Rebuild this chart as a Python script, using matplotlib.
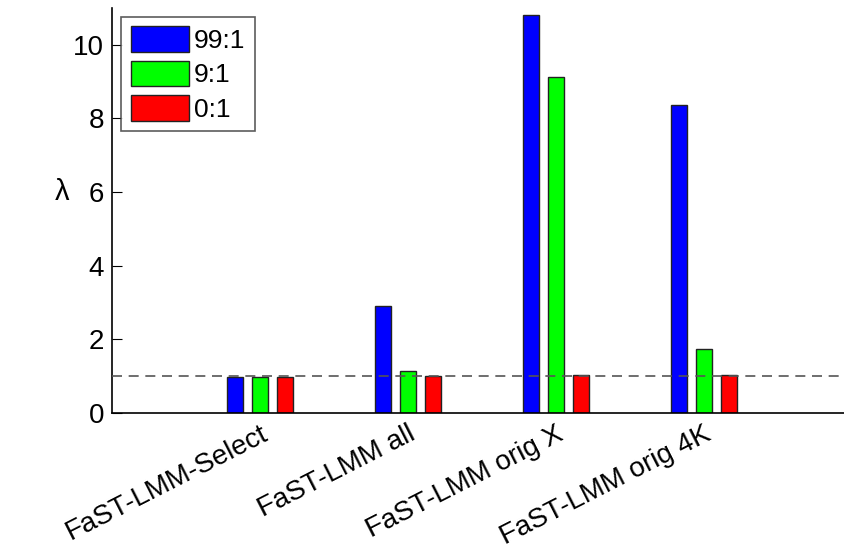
import matplotlib.pyplot as plt
import numpy as np

plt.rcParams['font.family'] = ['Liberation Sans', 'DejaVu Sans']

# methods and lambda values
methods = ["FaST-LMM-Select", "FaST-LMM all", "FaST-LMM orig X", "FaST-LMM orig 4K"]
ratio_labels = ["99:1", "9:1", "0:1"]
lam_99 = [0.98, 2.91, 10.79, 8.37]
lam_9 = [0.98, 1.14, 9.13, 1.74]
lam_0 = [0.98, 0.99, 1.03, 1.03]

colors = ["#0000ff", "#00ff00", "#ff0000"]

fig = plt.figure(figsize=(8.44, 5.52), dpi=100)
ax = fig.add_axes([0.133, 0.252, 0.867, 0.734])

x = np.arange(1, len(methods) + 1)
offset = 0.169
width = 0.108
for i, (vals, c, lab) in enumerate(zip([lam_99, lam_9, lam_0], colors, ratio_labels)):
    ax.bar(x + (i - 1) * offset, vals, width, color=c, edgecolor="#222222",
           linewidth=1.0, label=lab, zorder=2)

# reference line at lambda = 1
ax.axhline(1.0, color="#555555", linestyle=(0, (6, 4)), linewidth=1.2, zorder=3)

ax.set_xlim(0, 4.95)
ax.set_ylim(0, 11)
ax.set_yticks([0, 2, 4, 6, 8, 10])
ax.set_xticks(x)
ax.set_xticklabels(methods, rotation=27, ha="right", rotation_mode="anchor",
                   fontsize=20)
ax.tick_params(axis="x", length=0, pad=6)
ax.tick_params(axis="y", direction="in", length=7, labelsize=20, pad=6)

for s in ["top", "right"]:
    ax.spines[s].set_visible(False)
ax.spines["left"].set_linewidth(1.2)
ax.spines["bottom"].set_linewidth(1.2)

ax.set_ylabel("λ", rotation=0, fontsize=21, va="center")
ax.yaxis.set_label_coords(-0.068, 0.545)

leg = ax.legend(loc="upper left", bbox_to_anchor=(0.0, 1.0), fontsize=19,
                frameon=True, fancybox=False, edgecolor="#333333",
                handlelength=2.2, handleheight=1.1, handletextpad=0.2,
                labelspacing=0.3, borderpad=0.35, borderaxespad=0.35)
leg.get_frame().set_linewidth(1.2)

fig.savefig("out.png", dpi=100)
